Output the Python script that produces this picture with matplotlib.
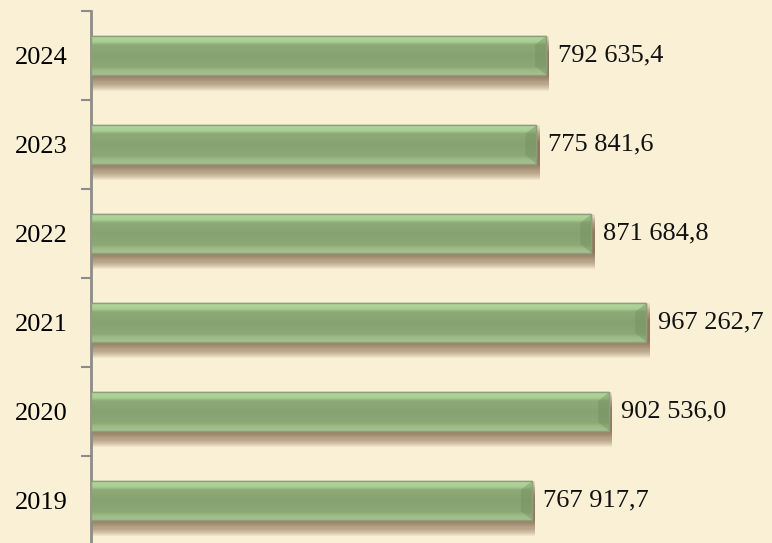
import numpy as np
import matplotlib.pyplot as plt
from matplotlib.colors import LinearSegmentedColormap

# datos
anios = ['2019', '2020', '2021', '2022', '2023', '2024']
valores = [767917.7, 902536.0, 967262.7, 871684.8, 775841.6, 792635.4]
etiquetas = ['767 917,7', '902 536,0', '967 262,7', '871 684,8', '775 841,6', '792 635,4']

fondo = '#FAF0D6'
plt.rcParams['font.family'] = ['Liberation Serif', 'DejaVu Serif']

fig = plt.figure(figsize=(7.72, 5.43), dpi=100, facecolor=fondo)
ax = fig.add_axes([91 / 772, -2 / 543, 681 / 772, 534 / 543])
ax.set_facecolor(fondo)

n = len(anios)
y = np.arange(n)
alto = 0.43
xmax = 681 / 0.000574
ax.set_xlim(0, xmax)
ax.set_ylim(-0.5, n - 0.5)

# gradiente vertical del bevel (arriba claro, centro oscuro, abajo claro)
cmap = LinearSegmentedColormap.from_list('bevel', [
    (0.0, '#A6C190'), (0.12, '#9CB985'), (0.2, '#8CA876'),
    (0.5, '#86A270'), (0.78, '#8DAA77'), (0.86, '#A9CE94'),
    (1.0, '#B2D69C')])
grad = np.linspace(0, 1, 64).reshape(-1, 1)

for i in range(n):
    v = valores[i]
    # sombra difusa
    for k in range(16):
        off = 0.0125 * k
        ax.barh(y[i] - off, v + xmax * 0.005, height=alto, left=0,
                color='#6A4A2E', alpha=0.07, linewidth=0, zorder=1)
    b = ax.barh(y[i], v, height=alto, color='#88A673',
                edgecolor='#8E9E7C', linewidth=1.0, zorder=2)[0]
    im = ax.imshow(grad, cmap=cmap, aspect='auto', zorder=3,
                   extent=[0, v, y[i] + alto / 2, y[i] - alto / 2])
    im.set_clip_path(b)
    # extremo derecho mas oscuro
    dx = xmax * 0.016
    ax.fill([v - dx, v, v, v - dx],
            [y[i] - alto * 0.28, y[i] - alto / 2, y[i] + alto / 2, y[i] + alto * 0.28],
            color='#6F8C5C', alpha=0.4, linewidth=0, zorder=4)
    ax.barh(y[i], v, height=alto, color='none',
            edgecolor='#8E9E7C', linewidth=1.0, zorder=5)
    ax.text(v + xmax * 0.017, y[i], etiquetas[i], va='center', ha='left',
            fontsize=19, color='#111111', zorder=6)

ax.set_yticks(y)
ax.set_yticklabels(anios, fontsize=19)
ax.tick_params(axis='y', which='major', length=0, pad=16.5)
ax.set_yticks(np.arange(-0.5, n, 1), minor=True)
ax.tick_params(axis='y', which='minor', length=7, width=1.5, color='#8C8C8C')
ax.set_xticks([])
for s in ['top', 'right', 'bottom']:
    ax.spines[s].set_visible(False)
ax.spines['left'].set_color('#8C8C8C')
ax.spines['left'].set_linewidth(2)

fig.savefig('out.png', dpi=100, facecolor=fondo)
